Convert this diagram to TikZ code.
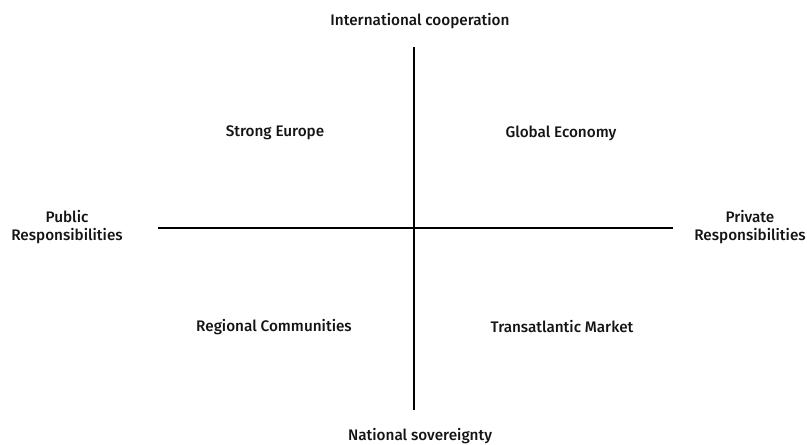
\documentclass[tikz,border=0pt]{standalone}
\usepackage{fontspec}
\setmainfont{Fira Sans}[UprightFont={* Medium}]
\begin{document}
\begin{tikzpicture}[x=1pt,y=-1pt,
  axis/.style={line width=1.5pt,black},
  lbl/.style={font=\fontsize{15.3}{17.3}\selectfont,text=black!92,inner sep=0pt,align=center}]
\useasboundingbox (0,0) rectangle (807,445);
% axes
\coordinate (top) at (414,47);
\coordinate (bot) at (414,410);
\coordinate (lft) at (158,228);
\coordinate (rgt) at (673,228);
\draw[axis] (top) -- (bot);
\draw[axis] (lft) -- (rgt);
% axis labels
\node[lbl] (intl) at (420,21) {International cooperation};
\node[lbl] (natl) at (420,436) {National sovereignty};
\node[lbl] (pub) at (67,227) {Public\\Responsibilities};
\node[lbl] (priv) at (750,227) {Private\\Responsibilities};
% quadrant scenarios
\node[lbl] (se) at (275,133) {Strong Europe};
\node[lbl] (ge) at (561,133) {Global Economy};
\node[lbl] (rc) at (274,327) {Regional Communities};
\node[lbl] (tm) at (562,327) {Transatlantic Market};
\end{tikzpicture}
\end{document}
